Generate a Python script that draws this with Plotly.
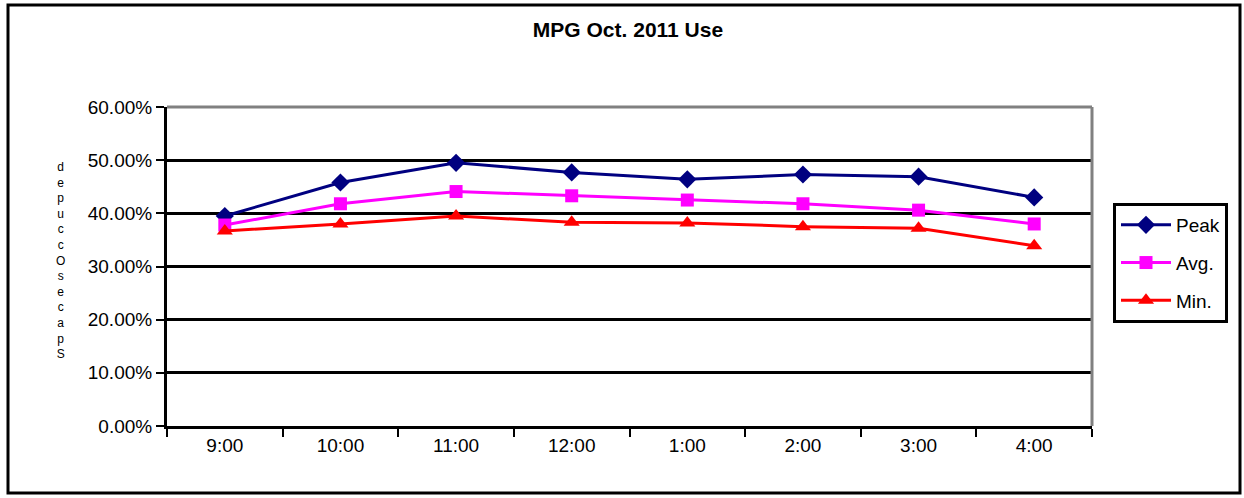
import plotly.graph_objects as go

categories = ["9:00", "10:00", "11:00", "12:00", "1:00", "2:00", "3:00", "4:00"]
peak = [39.5, 45.8, 49.5, 47.7, 46.4, 47.3, 46.9, 43.0]
avg = [37.8, 41.8, 44.1, 43.3, 42.5, 41.8, 40.6, 38.0]
minimum = [36.7, 38.0, 39.5, 38.3, 38.2, 37.5, 37.2, 33.9]
title_text = "MPG Oct. 2011 Use"
y_title_letters = ["d", "e", "p", "u", "c", "c", "O", "s", "e", "c", "a", "p", "S"]

FONT = "Liberation Sans, Arial, sans-serif"

fig = go.Figure()
series = [
    ("Peak", peak, "#000080", "diamond", 14),
    ("Avg.", avg, "#FF00FF", "square", 13),
    ("Min.", minimum, "#FF0000", "triangle-up", 14),
]
for i, (name, vals, col, sym, sz) in enumerate(series):
    fig.add_trace(go.Scatter(
        x=categories, y=vals, name=name, mode="lines+markers",
        line=dict(color=col, width=3),
        marker=dict(symbol=sym, size=sz, color=col),
        legendgroup=f"g{i}",
    ))

L, R, T, B = 167, 1092, 107, 426
W, H = 1244, 498
pw, ph = R - L, B - T

def px(x):
    return (x - L) / pw

def py(y):
    return (B - y) / ph

fig.update_layout(
    width=W, height=H,
    margin=dict(l=L, r=W - R, t=T, b=H - B),
    paper_bgcolor="white", plot_bgcolor="white",
    font=dict(family=FONT, size=19, color="black"),
    title=dict(text=f"<b>{title_text}</b>", x=px(628), xref="paper", xanchor="center",
               y=1 - 30 / H, yanchor="middle", font=dict(size=21)),
    showlegend=True,
    legend=dict(
        x=px(1113), y=py(203), xanchor="left", yanchor="top",
        bordercolor="black", borderwidth=3, bgcolor="white",
        font=dict(size=19), tracegroupgap=10, itemwidth=50,
    ),
    xaxis=dict(
        type="category", range=[-0.5, 7.5], showgrid=False,
        showline=True, linecolor="black", linewidth=3,
        ticks="outside", tickson="boundaries", ticklen=8, tickwidth=2, tickcolor="black",
        tickfont=dict(size=19), zeroline=False,
    ),
    yaxis=dict(
        range=[0, 60], dtick=10, tickformat=".2f", ticksuffix="%",
        showgrid=True, gridcolor="black", gridwidth=3,
        showline=True, linecolor="black", linewidth=3,
        ticks="outside", ticklen=8, tickwidth=2, tickcolor="black",
        tickfont=dict(size=19), zeroline=False,
    ),
    shapes=[
        dict(type="line", xref="paper", yref="paper", x0=0, x1=1, y0=1, y1=1,
             line=dict(color="#808080", width=3)),
        dict(type="line", xref="paper", yref="paper", x0=1, x1=1, y0=0, y1=1,
             line=dict(color="#808080", width=3)),
        dict(type="rect", xref="paper", yref="paper",
             x0=px(8), x1=px(1240), y0=py(493), y1=py(5),
             line=dict(color="black", width=3), fillcolor="rgba(0,0,0,0)", layer="below"),
    ],
    annotations=[
        dict(text="<br>".join(y_title_letters), xref="paper", yref="paper",
             x=px(60), y=py(260), xanchor="center", yanchor="middle",
             showarrow=False, font=dict(size=12, color="black", family=FONT)),
    ],
)

fig.write_html(
    "out.html",
    config={"displayModeBar": False},
    post_script="document.body.style.margin='0';document.body.style.overflow='hidden';",
)
